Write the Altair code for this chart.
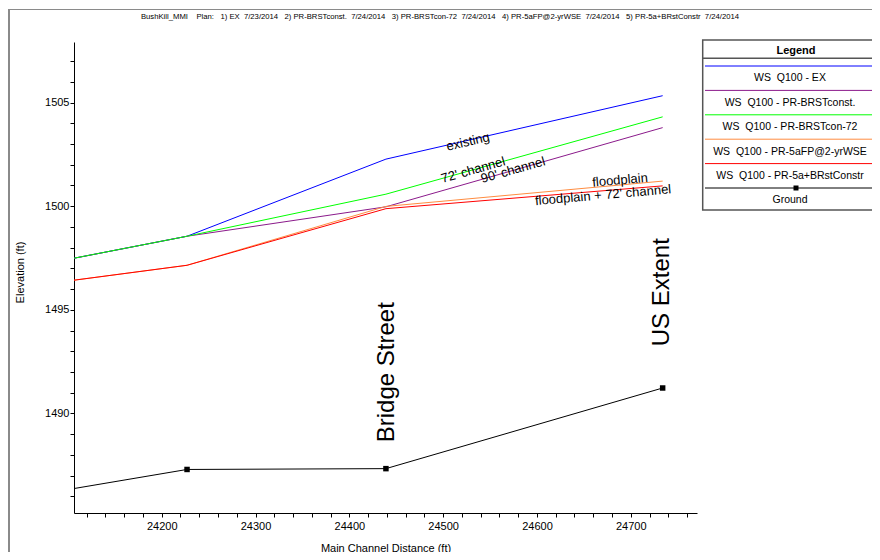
import altair as alt
import pandas as pd

# ---------------- data ----------------
station = [24106.5, 24227, 24439, 24734]          # main channel distance (ft)
series_names = [
    "WS\u00a0\u00a0Q100 - EX",
    "WS\u00a0\u00a0Q100 - PR-BRSTconst.",
    "WS\u00a0\u00a0Q100 - PR-BRSTcon-72",
    "WS\u00a0\u00a0Q100 - PR-5aFP@2-yrWSE",
    "WS\u00a0\u00a0Q100 - PR-5a+BRstConstr",
]
ws_ex = [1497.49, 1498.55, 1502.27, 1505.33]
ws_brstconst = [1497.49, 1498.55, 1499.97, 1503.79]
ws_brstcon72 = [1497.49, 1498.55, 1500.58, 1504.31]
ws_5afp = [1496.43, 1497.15, 1499.99, 1501.21]
ws_5abr = [1496.43, 1497.15, 1499.88, 1500.98]
ground = [1486.38, 1487.30, 1487.34, 1491.23]
ground_marker = [False, True, True, True]
series_colors = ["#0000ff", "#8b1a8b", "#00ff00", "#ff8c40", "#ff0000"]

note_text = ["existing", "72' channel", "90' channel", "floodplain", "floodplain + 72' channel"]
note_x = [24526.5, 24532, 24574.5, 24688.6, 24670.5]
note_y = [1503.10, 1501.74, 1501.74, 1501.25, 1500.53]
note_angle = [347, 344, 344, 355, 355]

section_labels = ["Bridge Street", "US Extent"]
section_x = [24440, 24733]
section_y = [1491.99, 1495.85]

x_ticks = list(range(24120, 24761, 20))
y_ticks = list(range(1486, 1508))

title_text = ("BushKill_MMI\u00a0\u00a0\u00a0\u00a0Plan:\u00a0\u00a0\u00a01) EX\u00a0\u00a07/23/2014\u00a0\u00a0\u00a0"
              "2) PR-BRSTconst.\u00a0\u00a07/24/2014\u00a0\u00a0\u00a03) PR-BRSTcon-72\u00a0\u00a07/24/2014\u00a0\u00a0\u00a0"
              "4) PR-5aFP@2-yrWSE\u00a0\u00a07/24/2014\u00a0\u00a0\u00a05) PR-5a+BRstConstr\u00a0\u00a07/24/2014")

FONT = "Liberation Sans, Arial, sans-serif"

# ---------------- scales / axes ----------------
xs = alt.Scale(domain=[24106.5, 24770.6], nice=False, zero=False)
ys = alt.Scale(domain=[1485.2, 1507.92], nice=False, zero=False)

x_axis = alt.Axis(
    title="Main Channel Distance (ft)", values=x_ticks, format="d",
    labelExpr="datum.value % 100 === 0 ? datum.label : ''",
    grid=False, tickSize=4, labelPadding=3, labelOverlap=False, labelFlush=False,
    domainColor="black", tickColor="black", labelColor="black",
    labelFont=FONT, labelFontSize=11, titleFont=FONT, titleFontSize=11,
    titleFontWeight="normal", titleColor="black", titleY=35, titleBaseline="middle",
)
y_axis = alt.Axis(
    title="Elevation (ft)", values=y_ticks, format="d",
    labelExpr="datum.value % 5 === 0 ? datum.label : ''",
    grid=False, tickSize=4, labelPadding=1, labelOverlap=False, labelFlush=False,
    domainColor="black", tickColor="black", labelColor="black",
    labelFont=FONT, labelFontSize=11, titleFont=FONT, titleFontSize=11,
    titleFontWeight="normal", titleColor="black",
    titleX=-54, titleY=230, titleAngle=270, titleAlign="center", titleBaseline="middle",
)
X = alt.X("x:Q", scale=xs, axis=x_axis)
Y = alt.Y("y:Q", scale=ys, axis=y_axis)

layers = []

# water surface lines (drawn in legend order, later on top)
for vals, col in zip([ws_ex, ws_brstconst, ws_brstcon72, ws_5afp, ws_5abr], series_colors):
    df = pd.DataFrame({"x": station, "y": vals})
    layers.append(alt.Chart(df).mark_line(color=col, strokeWidth=1).encode(x=X, y=Y))

# ground
gdf = pd.DataFrame({"x": station, "y": ground, "m": ground_marker})
layers.append(alt.Chart(gdf).mark_line(color="black", strokeWidth=1).encode(x=X, y=Y))
layers.append(
    alt.Chart(gdf[gdf["m"]]).mark_square(color="black", size=30, opacity=1).encode(x=X, y=Y)
)

# line annotations
ndf = pd.DataFrame({"x": note_x, "y": note_y, "t": note_text, "a": note_angle})
layers.append(
    alt.Chart(ndf).mark_text(font=FONT, fontSize=13, color="black", align="center", baseline="middle")
    .encode(x=X, y=Y, text="t:N", angle=alt.Angle("a:Q", scale=None))
)

# section labels
sdf = pd.DataFrame({"x": section_x, "y": section_y, "t": section_labels})
layers.append(
    alt.Chart(sdf).mark_text(font=FONT, fontSize=24, color="black", align="center",
                             baseline="middle", angle=270)
    .encode(x=X, y=Y, text="t:N")
)

# ---------------- decorations: title, frame, legend ----------------
one = pd.DataFrame({"k": [0]})
layers.append(
    alt.Chart(pd.DataFrame({"t": [title_text]})).mark_text(
        font=FONT, fontSize=7.7, color="black", align="center", baseline="middle")
    .encode(x=alt.value(366), y=alt.value(-25), text="t:N")
)
# outer frame lines
layers.append(alt.Chart(one).mark_rule(color="#8a8a8a", strokeWidth=2)
              .encode(x=alt.value(-65), y=alt.value(-32.5), y2=alt.value(520)))
layers.append(alt.Chart(one).mark_rule(color="#8a8a8a", strokeWidth=1)
              .encode(x=alt.value(-66), x2=alt.value(810), y=alt.value(-32.5)))

# legend box
LX0, LX1, LCX = 628.7, 812, 716
layers.append(alt.Chart(one).mark_rect(fill="white", stroke="#555555", strokeWidth=1.5)
              .encode(x=alt.value(LX0), x2=alt.value(LX1), y=alt.value(-2), y2=alt.value(168)))
layers.append(alt.Chart(one).mark_rule(color="#555555", strokeWidth=1.5)
              .encode(x=alt.value(LX0), x2=alt.value(LX1), y=alt.value(16.3)))
layers.append(
    alt.Chart(pd.DataFrame({"t": ["Legend"]})).mark_text(
        font=FONT, fontSize=11, fontWeight="bold", color="black", align="center", baseline="middle")
    .encode(x=alt.value(LCX + 6), y=alt.value(8.5), text="t:N")
)
leg_names = series_names + ["Ground"]
leg_colors = series_colors + ["black"]
for i, (nm, col) in enumerate(zip(leg_names, leg_colors)):
    ly = 24 + 24.4 * i
    layers.append(alt.Chart(one).mark_rule(color=col, strokeWidth=1)
                  .encode(x=alt.value(631), x2=alt.value(LX1), y=alt.value(ly)))
    layers.append(
        alt.Chart(pd.DataFrame({"t": [nm]})).mark_text(
            font=FONT, fontSize=10.5, color="black", align="center", baseline="middle")
        .encode(x=alt.value(LCX), y=alt.value(ly + 12.3), text="t:N")
    )
    if nm == "Ground":
        layers.append(alt.Chart(one).mark_square(color="black", size=25, opacity=1)
                      .encode(x=alt.value(LCX + 6), y=alt.value(ly)))

chart = alt.layer(*layers).properties(
    width=623, height=471,
    padding={"left": 66, "top": 34, "right": 175, "bottom": 39},
    autosize=alt.AutoSizeParams(type="none"),
    background="white",
).configure_view(stroke=None)

chart.save("out.html", embed_options={"renderer": "svg", "actions": False})
